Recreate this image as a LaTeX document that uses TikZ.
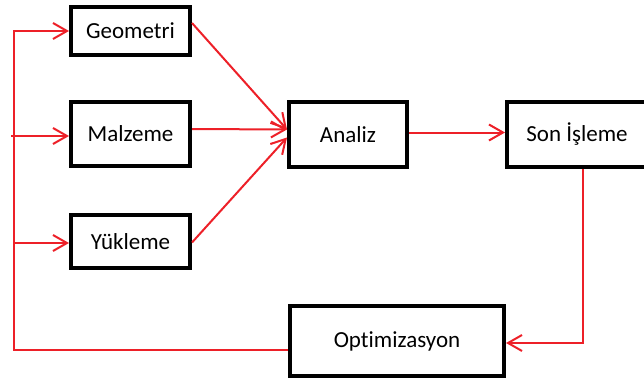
\documentclass[tikz,border=0pt]{standalone}
\usepackage{fontspec}
\setmainfont[Ligatures=NoCommon]{Carlito}
\usetikzlibrary{arrows.meta}
\definecolor{lred}{RGB}{237,32,40}
\tikzset{
  box/.style={draw=black, line width=4pt, fill=white, inner sep=0pt, font=\fontsize{23}{26}\selectfont},
  arr/.style={draw=lred, line width=2pt, -{Straight Barb[length=14pt,width=16pt,line width=2pt]}},
  ln/.style={draw=lred, line width=2pt}
}
\begin{document}
\begin{tikzpicture}[x=1pt,y=-1pt]
\useasboundingbox (0,0) rectangle (644,385);
\node[box, minimum width=119pt, minimum height=48pt] (geo) at (130.5,31) {Geometri};
\node[box, minimum width=119pt, minimum height=64pt] (mal) at (130.5,134) {Malzeme};
\node[box, minimum width=119pt, minimum height=53pt] (yuk) at (130.5,241.5) {Yükleme};
\node[box, minimum width=118pt, minimum height=65pt] (ana) at (348,134.5) {Analiz};
\node[box, minimum width=140pt, minimum height=65pt] (son) at (577,134.5) {Son İşleme};
\node[box, minimum width=214pt, minimum height=70pt] (opt) at (397,341) {Optimizasyon};
\coordinate (fbl) at (14,350);
\coordinate (fbm) at (11,136);
\coordinate (fby) at (13,243);
\draw[arr] ([yshift=8pt]geo.east) -- ([yshift=5pt]ana.west);
\draw[arr] ([yshift=5pt]mal.east) -- ([yshift=5pt]ana.west);
\draw[arr] ([yshift=-1pt]yuk.east) -- ([yshift=-3pt]ana.west);
\draw[arr] ([yshift=2pt]ana.east) -- ([yshift=2pt]son.west);
\draw[arr] ([xshift=6pt]son.south) |- ([yshift=-2pt]opt.east);
\draw[arr] ([yshift=-9pt]opt.west) -- (fbl) |- (geo.west);
\draw[arr] (fbm) -- ([yshift=-2pt]mal.west);
\draw[arr] (fby) -- ([yshift=-1.5pt]yuk.west);
\end{tikzpicture}
\end{document}
